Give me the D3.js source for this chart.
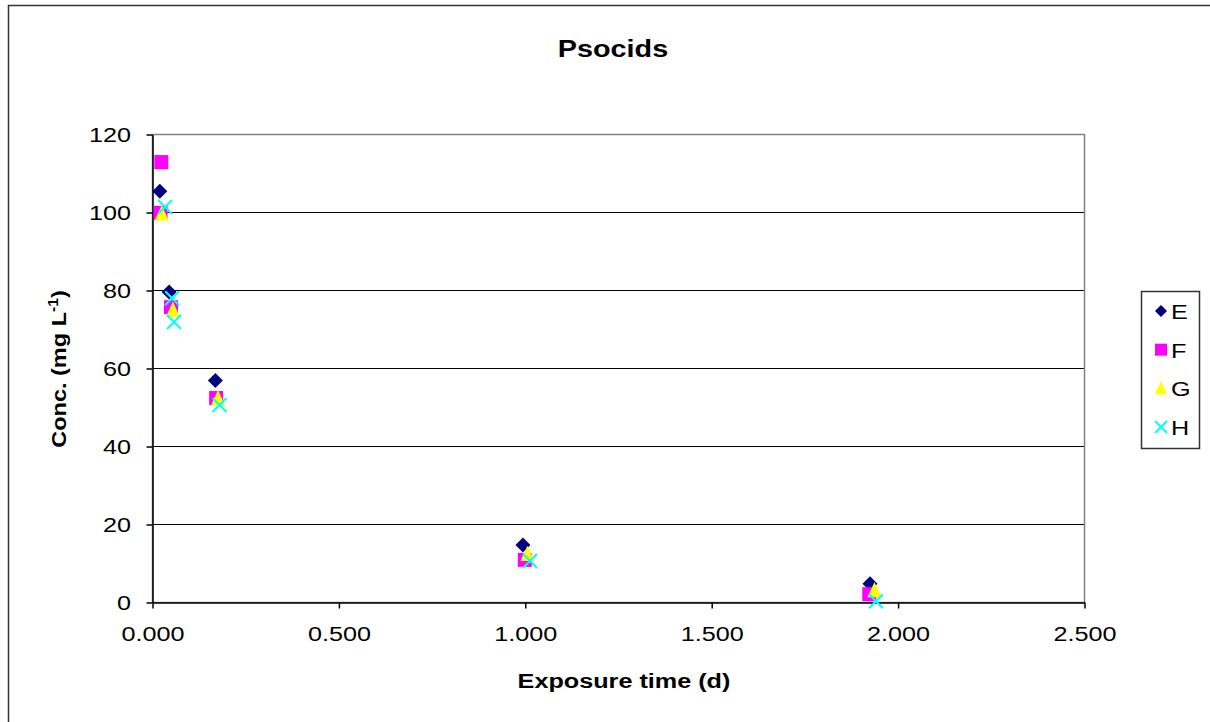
<!DOCTYPE html>
<html>
<head>
<meta charset="utf-8">
<script src="https://cdn.jsdelivr.net/npm/d3@7"></script>
<style>
  body { margin: 0; background: #fff; }
  svg { display: block; font-family: Arial, "Liberation Sans", sans-serif; }
</style>
</head>
<body>
<div id="chart"></div>
<script>
// values (time in days, conc. in mg/L)
const seriesNames = ["E", "F", "G", "H"]
const timeE = [0.021, 0.046, 0.170, 0.995, 1.926]
const concE = [105.3, 79.5, 56.8, 14.6, 4.7]
const timeF = [0.025, 0.023, 0.051, 0.172, 1.000, 1.924]
const concF = [112.8, 99.8, 75.6, 52.3, 10.8, 2.0]
const timeG = [0.026, 0.056, 0.177, 1.007, 1.938]
const concG = [99.6, 74.9, 52.2, 12.3, 3.0]
const timeH = [0.035, 0.054, 0.059, 0.181, 1.014, 1.942]
const concH = [101.3, 77.9, 71.8, 50.5, 10.5, 0.2]
const xTicks = [0, 0.5, 1, 1.5, 2, 2.5]
const yTicks = [0, 20, 40, 60, 80, 100, 120]

const width = 1210
const height = 722
const margin = { left: 152, right: 1084, top: 134, bottom: 602 }
const sx = 1.2 // the original text is drawn a bit wide

const svg = d3.select("#chart").append("svg")
  .attr("width", width)
  .attr("height", height)

// outer chart frame
svg.append("rect")
  .attr("x", 8.5).attr("y", 5.5)
  .attr("width", 1220).attr("height", 740)
  .attr("fill", "none").attr("stroke", "#333").attr("stroke-width", 1.5)

const x = d3.scaleLinear().domain([0, 2.5]).range([margin.left, margin.right])
const y = d3.scaleLinear().domain([0, 120]).range([margin.bottom, margin.top])

// gridlines
svg.append("g")
  .selectAll("line")
  .data(yTicks.slice(1))
  .enter()
  .append("line")
  .attr("x1", margin.left).attr("x2", margin.right)
  .attr("y1", d => y(d) + 0.5).attr("y2", d => y(d) + 0.5)
  .attr("stroke", "#000").attr("stroke-width", 1)

// plot area border
svg.append("rect")
  .attr("x", margin.left + 0.5).attr("y", margin.top + 0.5)
  .attr("width", margin.right - margin.left).attr("height", margin.bottom - margin.top)
  .attr("fill", "none").attr("stroke", "#808080").attr("stroke-width", 1.5)

// axes
const yAxis = d3.axisLeft(y).tickValues(yTicks).tickSize(6).tickSizeOuter(0)
const yg = svg.append("g").attr("transform", `translate(${margin.left + 0.5},0.5)`).call(yAxis)
const xAxis = d3.axisBottom(x).tickValues(xTicks).tickFormat(d3.format(".3f")).tickSize(6).tickSizeOuter(0)
const xg = svg.append("g").attr("transform", `translate(0.5,${margin.bottom + 0.5})`).call(xAxis)

;[yg, xg].forEach(g => {
  g.select(".domain").attr("stroke", "#000").attr("stroke-width", 1.5)
  g.selectAll(".tick line").attr("stroke", "#000").attr("stroke-width", 1.5)
  g.selectAll(".tick text")
    .attr("font-size", "21px")
    .attr("font-family", "Arial, 'Liberation Sans', sans-serif")
    .attr("fill", "#000")
    .attr("transform", `scale(${sx},1)`)
})
yg.selectAll(".tick text").attr("x", -18).attr("dy", "0.35em")
xg.selectAll(".tick text").attr("y", 39).attr("dy", 0)

// series
const series = [
  { name: "E", t: timeE, c: concE, shape: "diamond", r: 7.5, color: "#000080" },
  { name: "F", t: timeF, c: concF, shape: "square", r: 7, color: "#ff00ff" },
  { name: "G", t: timeG, c: concG, shape: "triangle", r: 7, color: "#ffff00" },
  { name: "H", t: timeH, c: concH, shape: "x", r: 7, color: "#00ffff" }
]

function drawMarker(g, shape, r, color, cx, cy) {
  let d
  if (shape === "diamond") d = `M${cx},${cy - r}L${cx + r},${cy}L${cx},${cy + r}L${cx - r},${cy}Z`
  else if (shape === "square") d = `M${cx - r},${cy - r}h${2 * r}v${2 * r}h${-2 * r}Z`
  else if (shape === "triangle") d = `M${cx},${cy - r * 1.2}L${cx + r},${cy + r}L${cx - r},${cy + r}Z`
  else d = `M${cx - r},${cy - r}L${cx + r},${cy + r}M${cx - r},${cy + r}L${cx + r},${cy - r}`
  const p = g.append("path").attr("d", d)
  if (shape === "x") p.attr("stroke", color).attr("stroke-width", 2).attr("fill", "none")
  else p.attr("fill", color)
}

const marks = svg.append("g")
series.forEach(s => {
  const g = marks.append("g")
  s.t.forEach((t, i) => drawMarker(g, s.shape, s.r, s.color, x(t), y(s.c[i])))
})

// title and axis titles
svg.append("text")
  .attr("transform", `translate(613,57) scale(${sx},1)`)
  .attr("text-anchor", "middle")
  .attr("font-size", "24px").attr("font-weight", "bold")
  .text("Psocids")

svg.append("text")
  .attr("transform", `translate(624,688) scale(${sx},1)`)
  .attr("text-anchor", "middle")
  .attr("font-size", "21px").attr("font-weight", "bold")
  .text("Exposure time (d)")

const yt = svg.append("text")
  .attr("transform", `translate(66,369) rotate(-90) scale(1.12,1)`)
  .attr("text-anchor", "middle")
  .attr("font-size", "21px").attr("font-weight", "bold")
yt.append("tspan").text("Conc. (mg L")
yt.append("tspan").attr("dy", -8).attr("font-size", "14px").text("-1")
yt.append("tspan").attr("dy", 8).text(")")

// legend
const legend = svg.append("g")
legend.append("rect")
  .attr("x", 1141.5).attr("y", 291.5)
  .attr("width", 58).attr("height", 157)
  .attr("fill", "#fff").attr("stroke", "#333").attr("stroke-width", 1.5)

const legendY = d3.scalePoint().domain(seriesNames).range([311, 427])
series.forEach(s => {
  const cy = legendY(s.name)
  drawMarker(legend, s.shape, 6, s.color, 1161, cy)
  legend.append("text")
    .attr("transform", `translate(1171,${cy + 8}) scale(${sx},1)`)
    .attr("font-size", "21px")
    .text(s.name)
})
</script>
</body>
</html>
